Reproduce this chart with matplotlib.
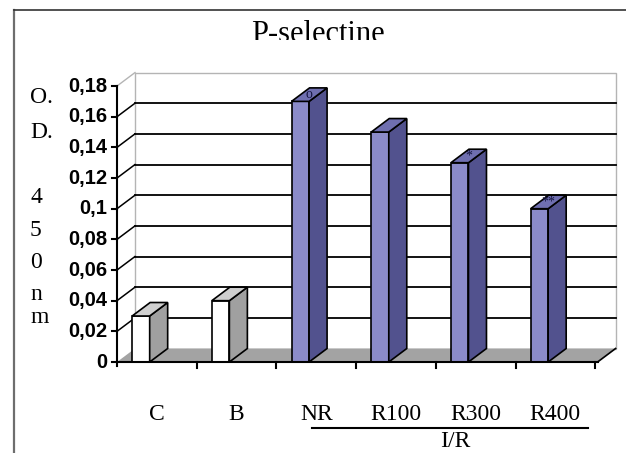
import matplotlib
matplotlib.use("Agg")
import matplotlib.pyplot as plt
from matplotlib.patches import Polygon, Rectangle
from matplotlib.lines import Line2D

# P-selectine, O.D. at 450 nm per group
categories = ['C', 'B', 'NR', 'R100', 'R300', 'R400']
od_values = [0.03, 0.04, 0.17, 0.15, 0.13, 0.10]
top_marks = ['', '', 'o', '', '*', '**']
ir_groups = ['NR', 'R100', 'R300', 'R400']
y_ticks = [0, 0.02, 0.04, 0.06, 0.08, 0.10, 0.12, 0.14, 0.16, 0.18]
y_tick_labels = ['0', '0,02', '0,04', '0,06', '0,08', '0,1', '0,12',
                 '0,14', '0,16', '0,18']
y_title = ['O.', 'D.', '4', '5', '0', 'n', 'm']

# page geometry (pixels) -> category / value units
W, H = 626, 453
X0, Y0 = 117, 362          # front origin of the 3-D box
PX_CAT = 79.7              # pixels per category
PX_VAL = 1533.0            # pixels per O.D. unit
DX = 18 / PX_CAT           # depth offset of the box
DY = 13.5 / PX_VAL
X_END = 6.03
Y_TOP = 0.18


def px_x(p):
    return (p - X0) / PX_CAT


def px_y(p):
    return (Y0 - p) / PX_VAL


serif = ['Liberation Serif', 'DejaVu Serif']
sans = ['Liberation Sans', 'DejaVu Sans']

fig = plt.figure(figsize=(W / 100, H / 100), dpi=100, facecolor='white')
ax = fig.add_axes([0, 0, 1, 1])
ax.set_xlim(px_x(0), px_x(W))
ax.set_ylim(px_y(H), px_y(0))
ax.axis('off')

# outer chart frame
ax.add_line(Line2D([px_x(14), px_x(14)], [px_y(10), px_y(H + 5)],
                   color='#6e6e6e', lw=1.6, zorder=1))
ax.add_line(Line2D([px_x(14), px_x(W + 5)], [px_y(10), px_y(10)],
                   color='#333333', lw=1.2, zorder=1))

# back wall and its border
ax.add_patch(Rectangle((DX, DY), X_END, Y_TOP, facecolor='white',
                       edgecolor='#b4b4b4', lw=1.0, zorder=2))
ax.add_line(Line2D([0, DX], [Y_TOP, Y_TOP + DY], color='#b4b4b4',
                   lw=1.0, zorder=2))

# gridlines on back wall and side wall
for v in y_ticks[1:-1]:
    ax.add_line(Line2D([DX, X_END + DX], [v + DY, v + DY], color='black',
                       lw=1.3, zorder=3))
    ax.add_line(Line2D([0, DX], [v, v + DY], color='black', lw=1.1, zorder=3))

# floor
ax.add_patch(Polygon([(0, 0), (X_END, 0), (X_END + DX, DY), (DX, DY)],
                     closed=True, facecolor='#a3a3a3', edgecolor='none',
                     zorder=4))
ax.add_line(Line2D([X_END, X_END + DX], [0, DY], color='black', lw=1.2,
                   zorder=4))

# bars
BAR_OFF, BAR_W = 0.19, 0.22
for i, (cat, val, mark) in enumerate(zip(categories, od_values, top_marks)):
    if cat in ir_groups:
        front, side, top = '#8b8bc9', '#52528e', '#6f6fb0'
    else:
        front, side, top = '#ffffff', '#a0a0a0', '#cfcfcf'
    x = i + BAR_OFF
    ax.add_patch(Rectangle((x, 0), BAR_W, val, facecolor=front,
                           edgecolor='black', lw=1.2, zorder=5))
    ax.add_patch(Polygon([(x + BAR_W, 0), (x + BAR_W + DX, DY),
                          (x + BAR_W + DX, val + DY), (x + BAR_W, val)],
                         closed=True, facecolor=side, edgecolor='black',
                         lw=1.2, zorder=5))
    ax.add_patch(Polygon([(x, val), (x + BAR_W, val),
                          (x + BAR_W + DX, val + DY), (x + DX, val + DY)],
                         closed=True, facecolor=top, edgecolor='black',
                         lw=1.2, zorder=5))
    if mark:
        ax.text(x + BAR_W / 2 + DX / 2, val + DY / 2, mark, ha='center',
                va='center', fontsize=10, color='#141440', family=serif,
                zorder=6)

# front value axis with ticks
ax.add_line(Line2D([0, 0], [px_y(Y0 + 4), Y_TOP], color='black', lw=1.5,
                   zorder=7))
for v, lab in zip(y_ticks, y_tick_labels):
    ax.add_line(Line2D([px_x(X0 - 5), 0], [v, v], color='black', lw=1.5,
                       zorder=7))
    ax.text(px_x(107), v, lab, ha='right', va='center', fontsize=14.5,
            fontweight='bold', family=sans, zorder=7)

# category axis with ticks
ax.add_line(Line2D([0, X_END], [0, 0], color='black', lw=1.5, zorder=7))
for k in range(1, len(categories) + 1):
    ax.add_line(Line2D([k, k], [0, px_y(Y0 + 6)], color='black', lw=1.5,
                       zorder=7))
for i, cat in enumerate(categories):
    ax.text(i + 0.5, px_y(420), cat, ha='center', va='baseline',
            fontsize=17, family=serif)

# I/R bracket under the ischemia/reperfusion groups
ax.add_line(Line2D([px_x(312), px_x(588)], [px_y(428), px_y(428)],
                   color='black', lw=1.5))
ax.text(px_x(455), px_y(447), 'I/R', ha='center', va='baseline',
        fontsize=17, family=serif)

# stacked axis title
y_base = [103, 138, 203, 236, 268, 300, 323]
for ch, b in zip(y_title, y_base):
    ax.text(px_x(30), px_y(b), ch, ha='left', va='baseline', fontsize=17,
            family=serif)

# chart title, cut off by the title box
title = ax.text(px_x(318), px_y(42), 'P-selectine', ha='center',
                va='baseline', fontsize=22, family=serif, clip_on=True)
clip = Rectangle((px_x(0), px_y(40)), px_x(W) - px_x(0),
                 px_y(0) - px_y(40), transform=ax.transData,
                 facecolor='none', edgecolor='none')
title.set_clip_path(clip)

fig.savefig('out.png', dpi=100, facecolor='white')
